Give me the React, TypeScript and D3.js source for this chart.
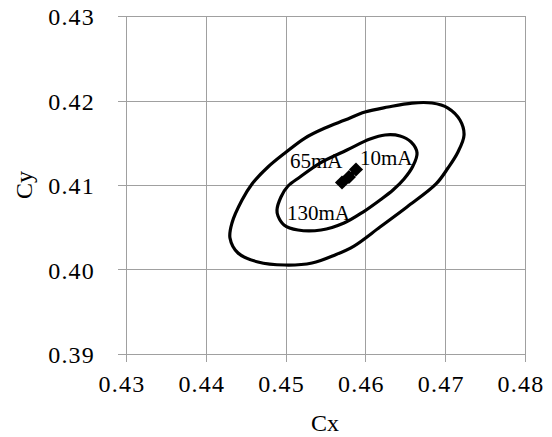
import React from "react";
import * as d3 from "d3";

const xTicks = [0.43, 0.44, 0.45, 0.46, 0.47, 0.48];
const yTicks = [0.39, 0.4, 0.41, 0.42, 0.43];

const outerX = [0.44303, 0.44328, 0.44454, 0.44579, 0.44779, 0.44992, 0.45243, 0.45494, 0.45744, 0.45995, 0.46283, 0.46584, 0.46835, 0.47035, 0.47185, 0.47236, 0.4716, 0.47035, 0.46885, 0.46521, 0.46183, 0.45857, 0.45619, 0.45331, 0.44992, 0.44654, 0.44404];
const outerY = [0.40373, 0.4055, 0.40822, 0.41012, 0.41213, 0.41379, 0.41556, 0.41675, 0.41769, 0.41864, 0.41923, 0.4197, 0.4197, 0.41911, 0.41769, 0.41592, 0.41391, 0.41201, 0.41012, 0.4074, 0.40503, 0.40278, 0.40172, 0.40077, 0.40053, 0.40089, 0.40195];

const innerX = [0.44892, 0.44942, 0.4503, 0.4518, 0.45431, 0.45769, 0.46058, 0.46246, 0.46434, 0.46571, 0.46647, 0.46596, 0.46484, 0.46346, 0.46183, 0.4597, 0.45732, 0.45444, 0.45155, 0.4498, 0.44905];
const innerY = [0.40704, 0.40858, 0.40988, 0.41095, 0.4126, 0.41414, 0.41544, 0.41592, 0.4158, 0.41509, 0.41379, 0.41225, 0.41071, 0.40941, 0.40822, 0.4068, 0.4055, 0.40467, 0.40467, 0.40527, 0.40633];

const centerLabels = ["130mA", "65mA", "10mA"];
const centerX = [0.45707, 0.45794, 0.45882];
const centerY = [0.4103, 0.41095, 0.41183];

const annLabels = ["10mA", "65mA", "130mA"];
const annX = [0.45932, 0.45055, 0.45018];
const annY = [0.41231, 0.41201, 0.40586];

const W = 552;
const H = 437;
const M = { left: 126, right: 27, top: 16, bottom: 83 };

export default function App() {
  const x = d3.scaleLinear().domain([0.43, 0.48]).range([M.left, W - M.right]);
  const y = d3.scaleLinear().domain([0.39, 0.43]).range([H - M.bottom, M.top]);
  const line = d3
    .line<[number, number]>()
    .x((d) => x(d[0]))
    .y((d) => y(d[1]))
    .curve(d3.curveCatmullRomClosed.alpha(0.5));
  const outer: [number, number][] = outerX.map((v, i) => [v, outerY[i]]);
  const inner: [number, number][] = innerX.map((v, i) => [v, innerY[i]]);
  const centers: [number, number][] = centerX.map((v, i) => [v, centerY[i]]);
  const openLine = d3
    .line<[number, number]>()
    .x((d) => x(d[0]))
    .y((d) => y(d[1]));
  const gridColor = "#a0a0a0";
  const font = "'Liberation Serif', 'DejaVu Serif', serif";
  const [x0, x1] = x.range();
  const [y0, y1] = y.range();
  return (
    <svg
      width={W}
      height={H}
      style={{ position: "absolute", left: 0, top: 0, background: "#fff" }}
    >
      <rect x={0} y={0} width={W} height={H} fill="#fff" />
      {xTicks.map((t) => (
        <line key={"gx" + t} x1={Math.round(x(t)) + 0.5} x2={Math.round(x(t)) + 0.5} y1={y1} y2={y0 + 8} stroke={gridColor} strokeWidth={1} />
      ))}
      {yTicks.map((t) => (
        <line key={"gy" + t} y1={Math.round(y(t)) + 0.5} y2={Math.round(y(t)) + 0.5} x1={x0 - 8} x2={x1} stroke={gridColor} strokeWidth={1} />
      ))}
      {xTicks.map((t) => (
        <text key={"tx" + t} x={x(t) - 4} y={y0 + 38} textAnchor="middle" fontFamily={font} fontSize={24} letterSpacing={1.2} fill="#000">
          {t.toFixed(2)}
        </text>
      ))}
      {yTicks.map((t) => (
        <text key={"ty" + t} x={95} y={y(t) + 9} textAnchor="end" fontFamily={font} fontSize={24} letterSpacing={1.2} fill="#000">
          {t.toFixed(2)}
        </text>
      ))}
      <text x={325} y={431} textAnchor="middle" fontFamily={font} fontSize={24} fill="#000">Cx</text>
      <text transform={`translate(32,185) rotate(-90)`} textAnchor="middle" fontFamily={font} fontSize={24} fill="#000">Cy</text>
      <path d={line(outer) || ""} fill="none" stroke="#000" strokeWidth={3.2} />
      <path d={line(inner) || ""} fill="none" stroke="#000" strokeWidth={3.2} />
      <path d={openLine(centers) || ""} fill="none" stroke="#000" strokeWidth={4} />
      {centers.map((c, i) => (
        <rect
          key={centerLabels[i]}
          x={-5}
          y={-5}
          width={10}
          height={10}
          fill="#000"
          transform={`translate(${x(c[0])},${y(c[1])}) rotate(45)`}
        />
      ))}
      {annLabels.map((l, i) => (
        <text key={l} x={x(annX[i])} y={y(annY[i])} fontFamily={font} fontSize={21} fill="#000">
          {l}
        </text>
      ))}
    </svg>
  );
}
